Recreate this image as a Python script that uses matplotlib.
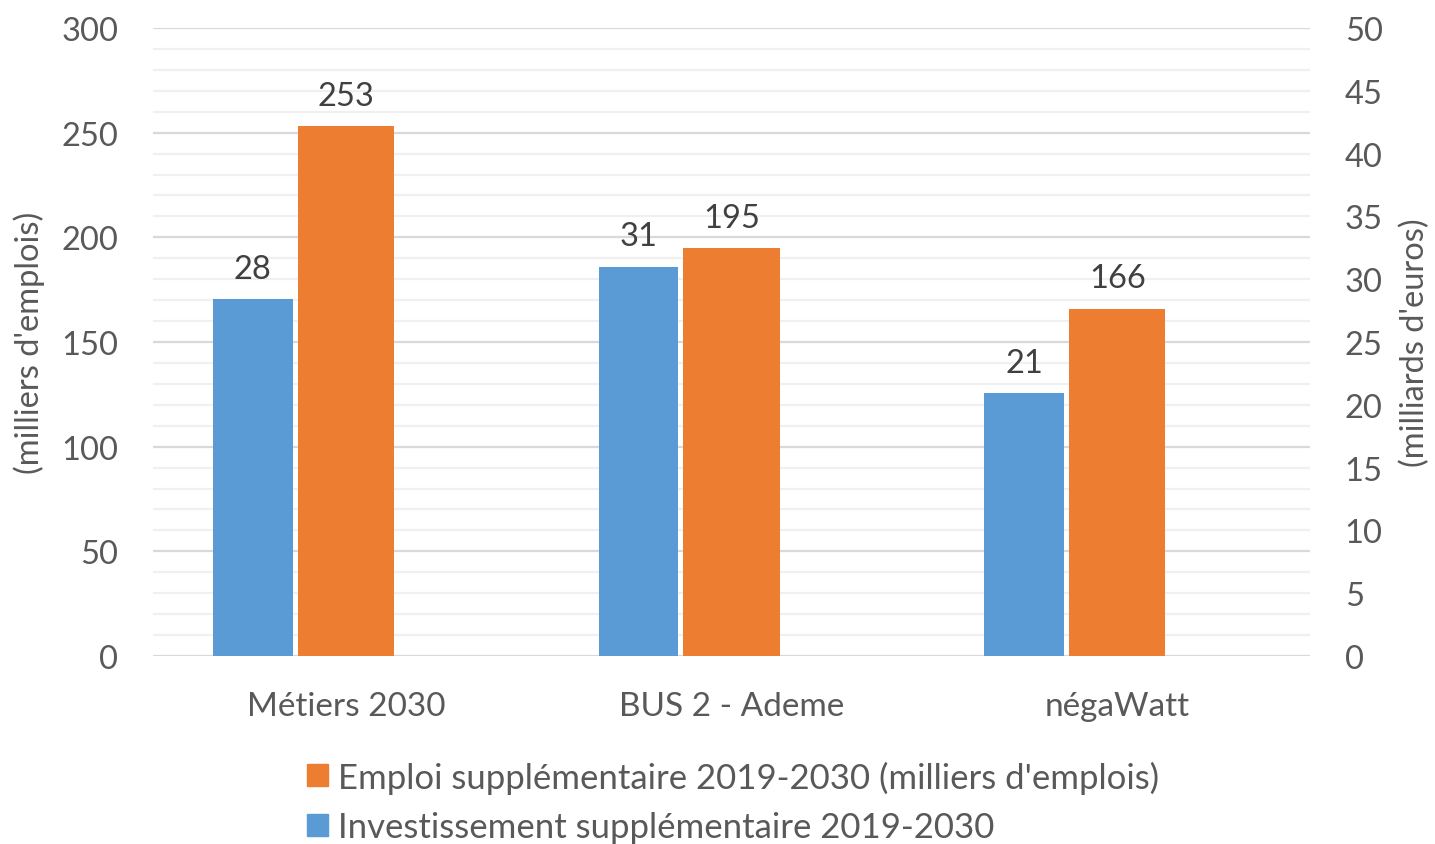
import matplotlib
matplotlib.use("Agg")
import matplotlib.pyplot as plt
import numpy as np
from matplotlib.patches import Patch

categories = ["Métiers 2030", "BUS 2 - Ademe", "négaWatt"]
emploi = [253, 195, 166]
invest = [28.4, 31, 20.9]
emploi_label = "Emploi supplémentaire 2019-2030 (milliers d'emplois)"
invest_label = "Investissement supplémentaire 2019-2030"
left_ticks = [0, 50, 100, 150, 200, 250, 300]
right_ticks = [0, 5, 10, 15, 20, 25, 30, 35, 40, 45, 50]

plt.rcParams['font.family'] = ['Lato', 'DejaVu Sans']
TXT = "#595959"
BLUE = "#5b9bd5"
ORANGE = "#ed7d31"

fig = plt.figure(figsize=(14.35, 8.45), dpi=100)
ax = fig.add_axes([153/1435, 1 - 657/845, (1310-153)/1435, (657-29)/845])
ax2 = ax.twinx()

x = np.arange(len(categories))
ax.set_xlim(-0.5, 2.5)
ax.set_ylim(0, 300)
ax2.set_ylim(0, 50)

# gridlines
for v in range(0, 301, 10):
    major = (v % 50 == 0)
    ax.axhline(v, color="#d9d9d9" if major else "#f0f0f0", lw=1.6, zorder=0)

ob = ax.bar(x, emploi, width=0.249, color=ORANGE, zorder=3)
bb = ax2.bar(x - 0.241, invest, width=0.207, color=BLUE, zorder=3)

for xi, v in zip(x, emploi):
    ax.annotate(f"{v:.0f}", (xi, v), xytext=(0, 11), textcoords="offset points",
                ha="center", va="bottom", fontsize=23.5, color="#404040")
for xi, v in zip(x, invest):
    ax2.annotate(f"{v:.0f}", (xi - 0.241, v), xytext=(0, 11), textcoords="offset points",
                 ha="center", va="bottom", fontsize=23.5, color="#404040")

ax.set_yticks(left_ticks)
ax2.set_yticks(right_ticks)
ax.set_xticks(x)
ax.set_xticklabels(categories)
for a in (ax, ax2):
    for s in a.spines.values():
        s.set_visible(False)
    a.tick_params(length=0, labelsize=23.5, labelcolor=TXT)
ax.tick_params(axis='y', pad=25)
ax2.tick_params(axis='y', pad=25)
ax.tick_params(axis='x', pad=25, labelsize=24)
ax.set_ylabel("(milliers d'emplois)", fontsize=23.5, color=TXT, labelpad=12)
ax2.set_ylabel("(milliards d'euros)", fontsize=23.5, color=TXT, labelpad=12)

handles = [Patch(color=ORANGE, label=emploi_label), Patch(color=BLUE, label=invest_label)]
fig.legend(handles=handles, loc="upper left", bbox_to_anchor=(290/1435, 1 - 744/845),
           frameon=False, fontsize=25, labelcolor=TXT, handlelength=0.6, handleheight=0.6,
           handletextpad=0.28, labelspacing=0.5, borderpad=0)

fig.savefig("out.png", dpi=100)
